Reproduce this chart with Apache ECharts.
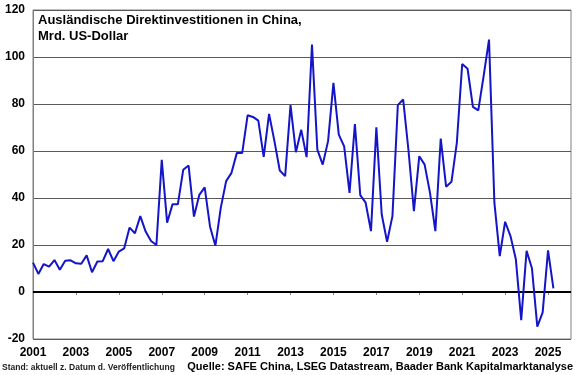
<!DOCTYPE html>
<html>
<head>
<meta charset="utf-8">
<script src="https://cdn.jsdelivr.net/npm/echarts@6/dist/echarts.min.js"></script>
<style>
  html, body { margin: 0; padding: 0; background: #fff; }
  #main { width: 580px; height: 375px; }
</style>
</head>
<body>
<div id="main"></div>
<script>
// Quartalswerte, Mrd. US-Dollar, ab 2001 Q1
let startYear = 2001;
let fdi = [
    12.5, 7.7, 11.9, 10.8, 13.6, 9.5, 13.3, 13.5, 12.2, 12.0, 15.6, 8.4, 13.0, 13.1, 18.3, 13.1, 17.2, 18.6,
    27.4, 25.0, 32.3, 25.7, 21.7, 20.0, 56.2, 29.5, 37.3, 37.3, 52.0, 53.8, 32.1, 41.3, 44.5, 27.8, 19.7,
    35.8, 47.2, 50.7, 59.2, 59.2, 75.2, 74.5, 72.9, 57.5, 75.8, 64.2, 51.7, 49.3, 79.5, 59.5, 69.0, 57.4,
    105.3, 60.6, 54.2, 64.2, 89.0, 67.0, 62.0, 42.2, 71.5, 41.2, 38.0, 25.9, 70.1, 33.0, 21.4, 32.3, 79.5, 81.9,
    60.0, 34.4, 57.8, 54.2, 42.2, 25.9, 65.3, 44.8, 46.9, 63.5, 97.0, 95.0, 78.8, 77.3, 92.0, 107.4,
    38.0, 15.3, 29.9, 23.8, 13.9, -12.0, 17.5, 10.1, -14.7, -8.7, 17.7, 1.5
];
let titleLines = ["Ausländische Direktinvestitionen in China,", "Mrd. US-Dollar"];
let footLeft = "Stand: aktuell z. Datum d. Veröffentlichung";
let footRight = "Quelle: SAFE China, LSEG Datastream, Baader Bank Kapitalmarktanalyse";

let points = fdi.map(function (v, i) { return [i / 4, v]; });

let dom = document.getElementById("main");
let myChart = echarts.init(dom, null, { renderer: "canvas" });
let font = "Liberation Sans, Arial, sans-serif";

let option = {
    animation: false,
    textStyle: { fontFamily: font },
    grid: {
        left: 33,
        right: 9,
        top: 10,
        bottom: 36,
        show: true,
        borderColor: "#808080",
        borderWidth: 1,
    },
    xAxis: {
        type: "value",
        min: 0,
        max: 25.07,
        interval: 2,
        axisLine: { show: true, lineStyle: { color: "#808080" } },
        axisTick: { show: true, length: 3, lineStyle: { color: "#808080" } },
        splitLine: { show: false },
        axisLabel: {
            color: "#000",
            fontWeight: "bold",
            fontSize: 12,
            margin: 8,
            showMaxLabel: false,
            formatter: function (v) {
                return v % 2 === 0 ? String(startYear + v) : "";
            },
        },
    },
    yAxis: {
        type: "value",
        min: -20,
        max: 120,
        interval: 20,
        axisLine: { show: true, lineStyle: { color: "#808080" } },
        axisTick: { show: false },
        splitLine: { lineStyle: { color: "#5a5a5a", width: 1 } },
        axisLabel: { color: "#000", fontWeight: "bold", fontSize: 12, margin: 8 },
    },
    graphic: [
        {
            type: "text",
            left: 38,
            top: 12,
            style: {
                text: titleLines.join("\n"),
                font: "bold 13px " + font,
                lineHeight: 16,
                fill: "#000",
            },
            z: 2,
        },
        {
            type: "text",
            left: 2,
            top: 363,
            style: { text: footLeft, font: "bold 8.5px " + font, fill: "#222" },
        },
        {
            type: "text",
            right: 7,
            top: 361,
            style: { text: footRight, font: "bold 11px " + font, fill: "#000" },
        },
    ],
    series: [
        {
            type: "line",
            data: points,
            symbol: "none",
            z: 5,
            lineStyle: { color: "#1414c8", width: 2 },
            markLine: {
                silent: true,
                symbol: "none",
                label: { show: false },
                lineStyle: { color: "#000", width: 2, type: "solid" },
                data: [{ yAxis: 0 }],
            },
        },
    ],
};

myChart.setOption(option);
window.addEventListener("resize", myChart.resize);
</script>
</body>
</html>
